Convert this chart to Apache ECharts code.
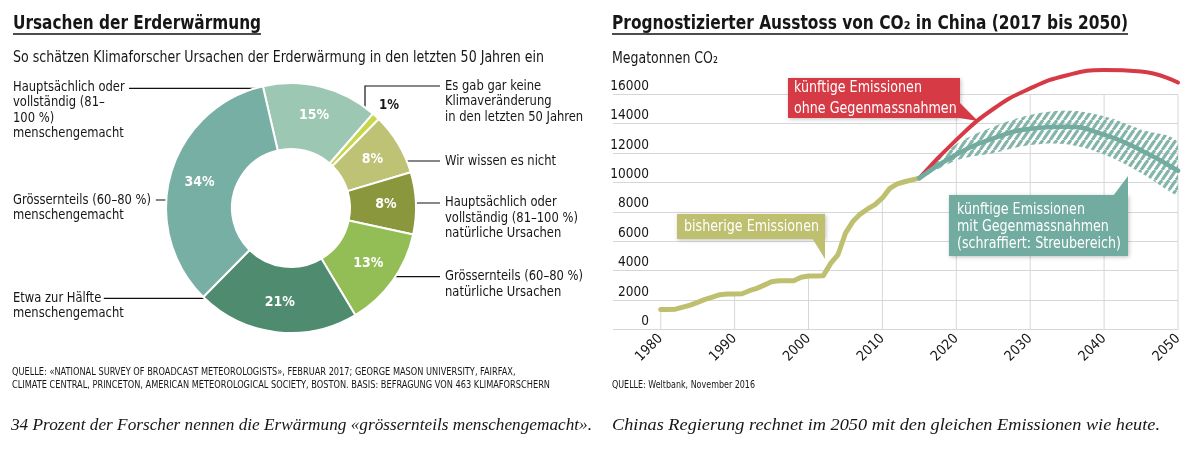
<!DOCTYPE html>
<html><head><meta charset="utf-8">
<script src="https://cdn.jsdelivr.net/npm/echarts@6/dist/echarts.min.js"></script>
<style>html,body{margin:0;padding:0;background:#fff}#c{width:1197px;height:450px}</style>
</head><body><div id="c"></div>
<script>
// ---------- data ----------
const pieCategories = [
  'Hauptsächlich oder\nvollständig (81–\n100 %)\nmenschengemacht',
  'Es gab gar keine\nKlimaveränderung\nin den letzten 50 Jahren',
  'Wir wissen es nicht',
  'Hauptsächlich oder\nvollständig (81–100 %)\nnatürliche Ursachen',
  'Grössernteils (60–80 %)\nnatürliche Ursachen',
  'Etwa zur Hälfte\nmenschengemacht',
  'Grössernteils (60–80 %)\nmenschengemacht'
];
const pieValues = [15, 1, 8, 8, 13, 21, 34];

const histYears = [1980,1981,1982,1983,1984,1985,1986,1987,1988,1989,1990,1991,1992,1993,1994,1995,1996,1997,1998,1999,2000,2001,2002,2003,2004,2005,2006,2007,2008,2009,2010,2011,2012,2013,2014,2015];
const histValues = [1360,1360,1380,1520,1660,1850,2050,2210,2370,2410,2410,2430,2640,2800,3020,3250,3320,3320,3320,3560,3640,3640,3660,4500,5100,6550,7340,7850,8200,8500,8950,9600,9900,10050,10180,10300];

const projYears = [2015,2020,2025,2030,2035,2040,2045,2050];
const noActionValues   = [10300,12900,15000,16400,17300,17650,17550,16800];
const withActionValues = [10300,11900,13000,13650,13800,13250,12200,10800];
const bandLow  = [10300,11500,12000,12550,12600,11900,10650,9150];
const bandHigh = [10300,12600,13800,14600,14900,14500,13600,12700];

const xTickYears = [1980,1990,2000,2010,2020,2030,2040,2050];
const yTickValues = [0,2000,4000,6000,8000,10000,12000,14000,16000];

// ---------- styles ----------
const COND = "'DejaVu Sans Condensed','Liberation Sans Narrow',sans-serif";
const SERIF = "'Liberation Serif','DejaVu Serif',serif";
const pieColors = ['#9cc7b3','#c8d64b','#bec274','#8a973c','#93bd55','#4f8b6f','#78afa5'];
const C_HIST = '#bfc06f', C_RED = '#d63b45', C_TEAL = '#72ab9f';

function makeHatch(){
  const w = 7, h = 10;
  const c = document.createElement('canvas'); c.width = w; c.height = h;
  const g = c.getContext('2d');
  g.strokeStyle = '#84b5a9'; g.lineWidth = 3.2;
  for (let k = -1; k <= 2; k++) { g.beginPath(); g.moveTo(k*w, 0); g.lineTo((k-1)*w, h); g.stroke(); }
  return c;
}
const HATCH = makeHatch();

const mctx = document.createElement('canvas').getContext('2d');
function measure(text, o) {
  mctx.font = (o.fontStyle || 'normal') + ' ' + (o.fontWeight || 'normal') + ' ' + o.fontSize + 'px ' + (o.fontFamily || COND);
  return Math.max.apply(null, text.split('\n').map(l => mctx.measureText(l).width));
}

const chart = echarts.init(document.getElementById('c'), null, {renderer: 'canvas'});

const histData = histYears.map((y, i) => [y, histValues[i]]);
const redData = projYears.map((y, i) => [y, noActionValues[i]]);
const tealData = projYears.map((y, i) => [y, withActionValues[i]]);
const gridLineData = xTickYears.map(y => {
  const idx = histYears.indexOf(y);
  return [y, (idx >= 0 && y <= 2010) ? histValues[idx] : yTickValues[yTickValues.length-1]];
});

// annotation layout (pixels)
const pieLabelLayout = [
  {x: 13,  y: 79.5,  line: [[129,88.3],[286.5,88.3],[286.5,109.5]]},
  {x: 445, y: 78.3,  line: [[440,86],[365,86],[365,127]]},
  {x: 445, y: 153.2, line: [[386.5,161],[440,161]]},
  {x: 445, y: 195,   line: [[394,203],[440,203]]},
  {x: 445, y: 269,   line: [[361.5,276.7],[440,276.7]]},
  {x: 13,  y: 290.5, line: [[103.8,298.3],[246,298.3]]},
  {x: 13,  y: 192.2, line: [[155.8,200],[199,200]]}
];

const graphics = [];
function txt(text, x, y, o, scale, z) {
  const st = Object.assign({text, x: 0, y: 0, fill: '#161616', fontFamily: COND, fontSize: 14, align: 'left', verticalAlign: 'middle'}, o || {});
  graphics.push({type: 'text', silent: true, x, y, scaleX: scale || 1, z: z || 10, style: st});
}
function fitTxt(text, x, y, o, targetW) {
  const s = targetW / measure(text, Object.assign({fontFamily: COND}, o));
  txt(text, x, y, o, s);
}
function line(points, color, width) {
  graphics.push({type: 'polyline', silent: true, shape: {points}, style: {stroke: color || '#111', lineWidth: width || 1.2, fill: null}});
}
// titles
fitTxt('Ursachen der Erderwärmung', 13, 24.5, {fontSize: 19, fontWeight: 'bold'}, 248);
line([[13,34],[261,34]], '#111', 1.5);
fitTxt('So schätzen Klimaforscher Ursachen der Erderwärmung in den letzten 50 Jahren ein', 13, 58, {fontSize: 16}, 531);
fitTxt('Prognostizierter Ausstoss von CO₂ in China (2017 bis 2050)', 612, 24.5, {fontSize: 19, fontWeight: 'bold'}, 516);
line([[612,34],[1128,34]], '#111', 1.5);
fitTxt('Megatonnen CO₂', 612, 59.3, {fontSize: 15}, 106);
// pie category labels + leader lines
const pieLabelStyle = {fontSize: 14, lineHeight: 15.5, verticalAlign: 'top'};
const pieLabelScale = 138 / measure('Grössernteils (60–80 %)', pieLabelStyle);
pieCategories.forEach((c, i) => {
  const L = pieLabelLayout[i];
  txt(c, L.x, L.y, pieLabelStyle, pieLabelScale);
  line(L.line, '#111', 1.2);
});
// 1 % label (outside the ring)
txt(pieValues[1] + '%', 379, 105, {fontSize: 14.5, fontWeight: 'bold'}, 0.9);
// sources
fitTxt('QUELLE: «NATIONAL SURVEY OF BROADCAST METEOROLOGISTS», FEBRUAR 2017; GEORGE MASON UNIVERSITY, FAIRFAX,\nCLIMATE CENTRAL, PRINCETON, AMERICAN METEOROLOGICAL SOCIETY, BOSTON. BASIS: BEFRAGUNG VON 463 KLIMAFORSCHERN',
    12, 366.5, {fontSize: 10, lineHeight: 12.5, verticalAlign: 'top'}, 538);
fitTxt('QUELLE: Weltbank, November 2016', 612, 385, {fontSize: 10}, 143);
// captions
fitTxt('34 Prozent der Forscher nennen die Erwärmung «grössernteils menschengemacht».', 11, 425, {fontFamily: SERIF, fontStyle: 'italic', fontSize: 17.5}, 581);
fitTxt('Chinas Regierung rechnet im 2050 mit den gleichen Emissionen wie heute.', 612, 425, {fontFamily: SERIF, fontStyle: 'italic', fontSize: 17.5}, 548);

// callouts
const calloutStyle = {fontSize: 15.5};
const calloutScale = 135 / measure('bisherige Emissionen', calloutStyle);
function callout(rect, tail, color, text, tx, ty, lh) {
  graphics.push({type: 'rect', silent: true, z: 50, shape: {x: rect[0], y: rect[1], width: rect[2], height: rect[3]},
    style: {fill: color, shadowBlur: 4, shadowColor: 'rgba(0,0,0,0.25)', shadowOffsetX: 1, shadowOffsetY: 1}});
  graphics.push({type: 'polygon', silent: true, z: 50, shape: {points: tail}, style: {fill: color}});
  txt(text, tx, ty, {fill: '#fff', fontSize: calloutStyle.fontSize, lineHeight: lh, verticalAlign: 'top'}, calloutScale, 51);
}
callout([788,78,172,40], [[959,102],[978,121],[959,118]], C_RED, 'künftige Emissionen\nohne Gegenmassnahmen', 794, 77.5, 21);
callout([677,214,148,25], [[812,238],[825,238],[825,259]], C_HIST, 'bisherige Emissionen', 684, 218, 17);
callout([949,195,179,61], [[1113,196],[1128,196],[1128,176]], C_TEAL, 'künftige Emissionen\nmit Gegenmassnahmen\n(schraffiert: Streubereich)', 957, 201, 17);

const option = {
  animation: false,
  textStyle: {fontFamily: COND},
  grid: [
    {left: 613, right: 19, top: 94.3, bottom: 120.5},
    {left: 660.7, right: 19, top: 94.3, bottom: 120.5}
  ],
  xAxis: [
    {gridIndex: 0, type: 'value', min: 0, max: 1, show: false},
    {gridIndex: 1, type: 'value', min: xTickYears[0], max: xTickYears[xTickYears.length-1], interval: 10,
     axisLine: {show: false}, axisTick: {show: false}, splitLine: {show: false},
     axisLabel: {rotate: 45, fontSize: 14, margin: 7, color: '#161616', fontFamily: COND, formatter: v => String(v)}}
  ],
  yAxis: [
    {gridIndex: 0, type: 'value', min: yTickValues[0], max: yTickValues[yTickValues.length-1], interval: 2000,
     axisLine: {show: false}, axisTick: {show: false},
     splitLine: {lineStyle: {color: '#d7d7d7', width: 1.2}},
     axisLabel: {inside: true, margin: 36, align: 'right', verticalAlign: 'bottom', fontSize: 13.5, color: '#161616', fontFamily: COND, padding: [0,0,1,0], formatter: v => String(v)}},
    {gridIndex: 1, type: 'value', min: yTickValues[0], max: yTickValues[yTickValues.length-1], show: false}
  ],
  series: [
    {type: 'pie', center: [291, 208], radius: [59, 125], startAngle: 103, clockwise: true,
     avoidLabelOverlap: false, silent: true,
     itemStyle: {borderColor: '#fff', borderWidth: 2},
     label: {show: true, position: 'inside', formatter: p => p.value + '%', color: '#fff', fontWeight: 'bold', fontSize: 14, fontFamily: COND},
     labelLine: {show: false},
     data: pieValues.map((v, i) => ({value: v, name: pieCategories[i], itemStyle: {color: pieColors[i]},
       label: i === 1 ? {show: false} : undefined}))},
    {type: 'bar', xAxisIndex: 1, yAxisIndex: 1, barWidth: 1, silent: true, z: 1,
     itemStyle: {color: '#d7d7d7'}, data: gridLineData},
    {type: 'line', xAxisIndex: 1, yAxisIndex: 1, data: histData, showSymbol: false, z: 3, silent: true,
     lineStyle: {color: C_HIST, width: 5, cap: 'round', join: 'round'}},
    {type: 'line', xAxisIndex: 1, yAxisIndex: 1, data: redData, smooth: true, showSymbol: false, clip: false, z: 4, silent: true,
     lineStyle: {color: C_RED, width: 4, cap: 'round'}},
    {type: 'custom', xAxisIndex: 1, yAxisIndex: 1, z: 4, silent: true, clip: false,
     data: [[projYears[0], bandLow[0]]],
     renderItem: (params, api) => {
       const upper = projYears.map((y, i) => api.coord([y, bandHigh[i]]));
       const lower = projYears.map((y, i) => api.coord([y, bandLow[i]])).reverse().slice(0, -1);
       const pts = upper.concat(lower);
       const xs = pts.map(p => p[0]), ys = pts.map(p => p[1]);
       const cons = [[Math.min.apply(null, xs), Math.min.apply(null, ys)], [Math.max.apply(null, xs), Math.max.apply(null, ys)]];
       return {type: 'polygon', shape: {points: pts, smooth: 0.35, smoothConstraint: cons},
               style: {fill: {image: HATCH, repeat: 'repeat'}}};
     }},
    {type: 'line', xAxisIndex: 1, yAxisIndex: 1, data: tealData, smooth: true, showSymbol: false, z: 5, silent: true,
     lineStyle: {color: C_TEAL, width: 4.5, cap: 'round'}}
  ],
  graphic: graphics
};
chart.setOption(option);
</script>
</body></html>
